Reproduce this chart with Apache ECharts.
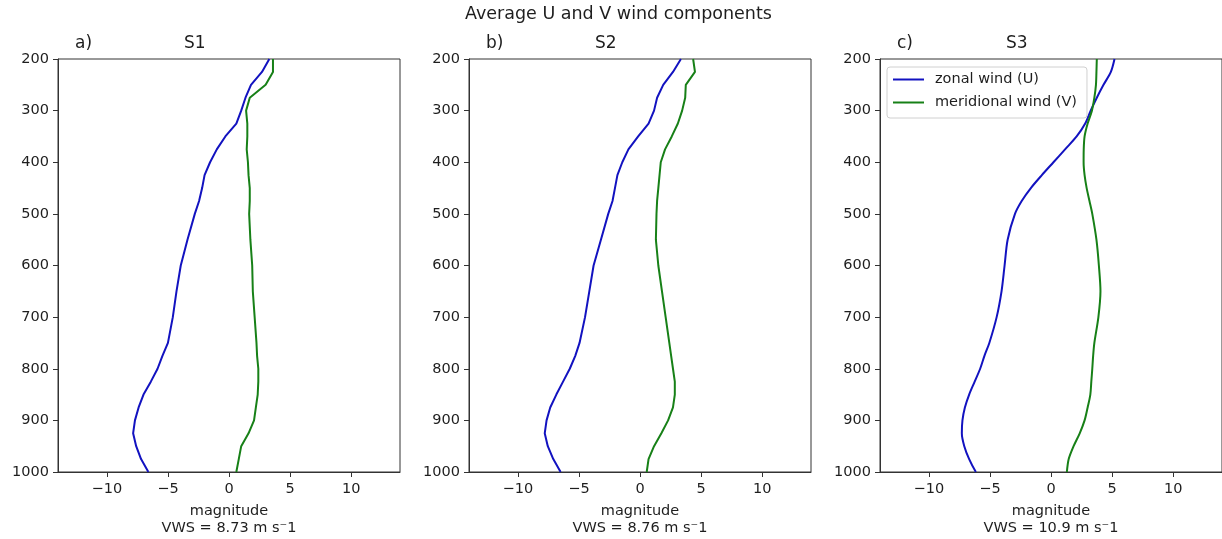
<!DOCTYPE html>
<html>
<head>
  <meta charset="utf-8">
  <title>Average U and V wind components</title>
  <script src="https://cdn.jsdelivr.net/npm/echarts@6/dist/echarts.min.js"></script>
  <style>
    * { margin: 0; padding: 0; }
    html, body, #chart { width: 1222px; height: 539px; overflow: hidden; background: #fff; }
  </style>
</head>
<body>
  <div id="chart"></div>
  <script>
    // pressure levels (hPa)
    var levels = [200, 225, 250, 275, 300, 325, 350, 375, 400, 425, 450, 475, 500, 550, 600, 650, 700, 750, 775, 800, 825, 850, 875, 900, 925, 950, 975, 1000];

    // S1
    var u1 = [3.3, 2.7, 1.8, 1.35, 1.0, 0.6, -0.3, -1.0, -1.55, -2.0, -2.2, -2.45, -2.8, -3.4, -3.95, -4.3, -4.6, -5.0, -5.45, -5.85, -6.4, -7.0, -7.4, -7.7, -7.85, -7.6, -7.2, -6.6];
    var v1 = [3.6, 3.6, 3.0, 1.7, 1.4, 1.5, 1.5, 1.45, 1.55, 1.6, 1.7, 1.7, 1.65, 1.75, 1.9, 1.95, 2.1, 2.25, 2.3, 2.4, 2.4, 2.35, 2.2, 2.05, 1.6, 1.0, 0.8, 0.6];
    // S2
    var u2 = [3.35, 2.7, 1.9, 1.4, 1.15, 0.7, -0.15, -0.95, -1.45, -1.85, -2.05, -2.25, -2.6, -3.2, -3.8, -4.15, -4.5, -4.95, -5.3, -5.75, -6.3, -6.85, -7.35, -7.65, -7.8, -7.55, -7.1, -6.5];
    var v2 = [4.35, 4.5, 3.75, 3.7, 3.45, 3.1, 2.6, 2.05, 1.7, 1.6, 1.5, 1.4, 1.35, 1.3, 1.5, 1.8, 2.1, 2.4, 2.55, 2.7, 2.85, 2.85, 2.7, 2.3, 1.75, 1.15, 0.7, 0.55];
    // S3
    var u3 = [5.2, 4.9, 4.3, 3.75, 3.25, 2.8, 2.1, 1.15, 0.2, -0.75, -1.65, -2.4, -2.95, -3.55, -3.8, -4.05, -4.45, -5.05, -5.45, -5.8, -6.25, -6.7, -7.05, -7.25, -7.3, -7.1, -6.7, -6.15];
    var v3 = [3.75, 3.72, 3.68, 3.55, 3.35, 3.0, 2.75, 2.68, 2.67, 2.75, 2.92, 3.15, 3.38, 3.72, 3.92, 4.05, 3.88, 3.55, 3.45, 3.38, 3.3, 3.22, 3.0, 2.75, 2.35, 1.85, 1.45, 1.3];

    var panelLetters = ['a)', 'b)', 'c)'];
    var panelNames = ['S1', 'S2', 'S3'];
    var vwsLabels = ['VWS = 8.73 m s\u207b1', 'VWS = 8.76 m s\u207b1', 'VWS = 10.9 m s\u207b1'];
    var xTicks = [-10, -5, 0, 5, 10];

    var uData = [u1, u2, u3];
    var vData = [v1, v2, v3];
    var gridLefts = [58, 469, 880];
    var font = 'DejaVu Sans';
    var blue = '#1212c0';
    var green = '#178017';
    var ink = '#1e1e1e';

    function pairs(vals) {
      return vals.map(function (v, i) { return [v, levels[i]]; });
    }

    var grids = [], xAxes = [], yAxes = [], series = [];
    var titles = [{
      text: 'Average U and V wind components',
      left: 465, top: 5, padding: 0,
      textStyle: { fontFamily: font, fontSize: 17.5, fontWeight: 'normal', color: ink }
    }];

    for (var i = 0; i < 3; i++) {
      grids.push({
        left: gridLefts[i], top: 59, width: 342, height: 413,
        outerBoundsMode: 'none', containLabel: false,
        show: true, borderColor: '#333', borderWidth: 1, backgroundColor: 'transparent'
      });
      xAxes.push({
        type: 'value', gridIndex: i, min: -14, max: 14,
        axisLine: { show: true, onZero: false, lineStyle: { color: '#333' } },
        axisTick: { show: true, length: 5, customValues: xTicks, lineStyle: { color: '#333' } },
        axisLabel: {
          customValues: xTicks, margin: 10, fontFamily: font, fontSize: 14.5, color: ink,
          formatter: function (v) { return v < 0 ? '\u2212' + Math.abs(v) : String(v); }
        },
        splitLine: { show: false },
        name: 'magnitude\n' + vwsLabels[i],
        nameLocation: 'middle', nameGap: 31,
        nameTextStyle: { fontFamily: font, fontSize: 14.5, color: ink, lineHeight: 17 }
      });
      yAxes.push({
        type: 'value', gridIndex: i, inverse: true, min: 200, max: 1000, interval: 100,
        axisLine: { show: true, onZero: false, lineStyle: { color: '#333' } },
        axisTick: { show: true, length: 5, lineStyle: { color: '#333' } },
        axisLabel: {
          margin: 9, fontFamily: font, fontSize: 14.5, color: ink,
          formatter: function (v) { return String(v); }
        },
        splitLine: { show: false }
      });
      titles.push({
        text: panelLetters[i], left: gridLefts[i] + 17, top: 35, padding: 0,
        textStyle: { fontFamily: font, fontSize: 17, fontWeight: 'normal', color: ink }
      });
      titles.push({
        text: panelNames[i], left: gridLefts[i] + 126, top: 35, padding: 0,
        textStyle: { fontFamily: font, fontSize: 17, fontWeight: 'normal', color: ink }
      });
      series.push({
        type: 'line', name: 'zonal wind (U)', xAxisIndex: i, yAxisIndex: i,
        data: pairs(uData[i]), symbol: 'none', smooth: i === 2 ? 0.3 : false,
        lineStyle: { color: blue, width: 2 }, itemStyle: { color: blue }
      });
      series.push({
        type: 'line', name: 'meridional wind (V)', xAxisIndex: i, yAxisIndex: i,
        data: pairs(vData[i]), symbol: 'none', smooth: i === 2 ? 0.3 : false,
        lineStyle: { color: green, width: 2 }, itemStyle: { color: green }
      });
    }

    var option = {
      animation: false,
      backgroundColor: '#fff',
      title: titles,
      legend: {
        left: 887, top: 67, orient: 'vertical',
        data: [
          { name: 'zonal wind (U)', icon: 'rect' },
          { name: 'meridional wind (V)', icon: 'rect' }
        ],
        itemWidth: 31, itemHeight: 2, itemGap: 8,
        padding: [5, 10, 8, 6],
        borderColor: '#d0d0d0', borderWidth: 1, borderRadius: 3,
        backgroundColor: 'rgba(255,255,255,0.8)',
        textStyle: { fontFamily: font, fontSize: 14.5, color: ink, padding: [0, 0, 0, 6] }
      },
      grid: grids,
      xAxis: xAxes,
      yAxis: yAxes,
      series: series
    };

    var chart = echarts.init(document.getElementById('chart'), null, { renderer: 'canvas' });
    chart.setOption(option);
  </script>
</body>
</html>
